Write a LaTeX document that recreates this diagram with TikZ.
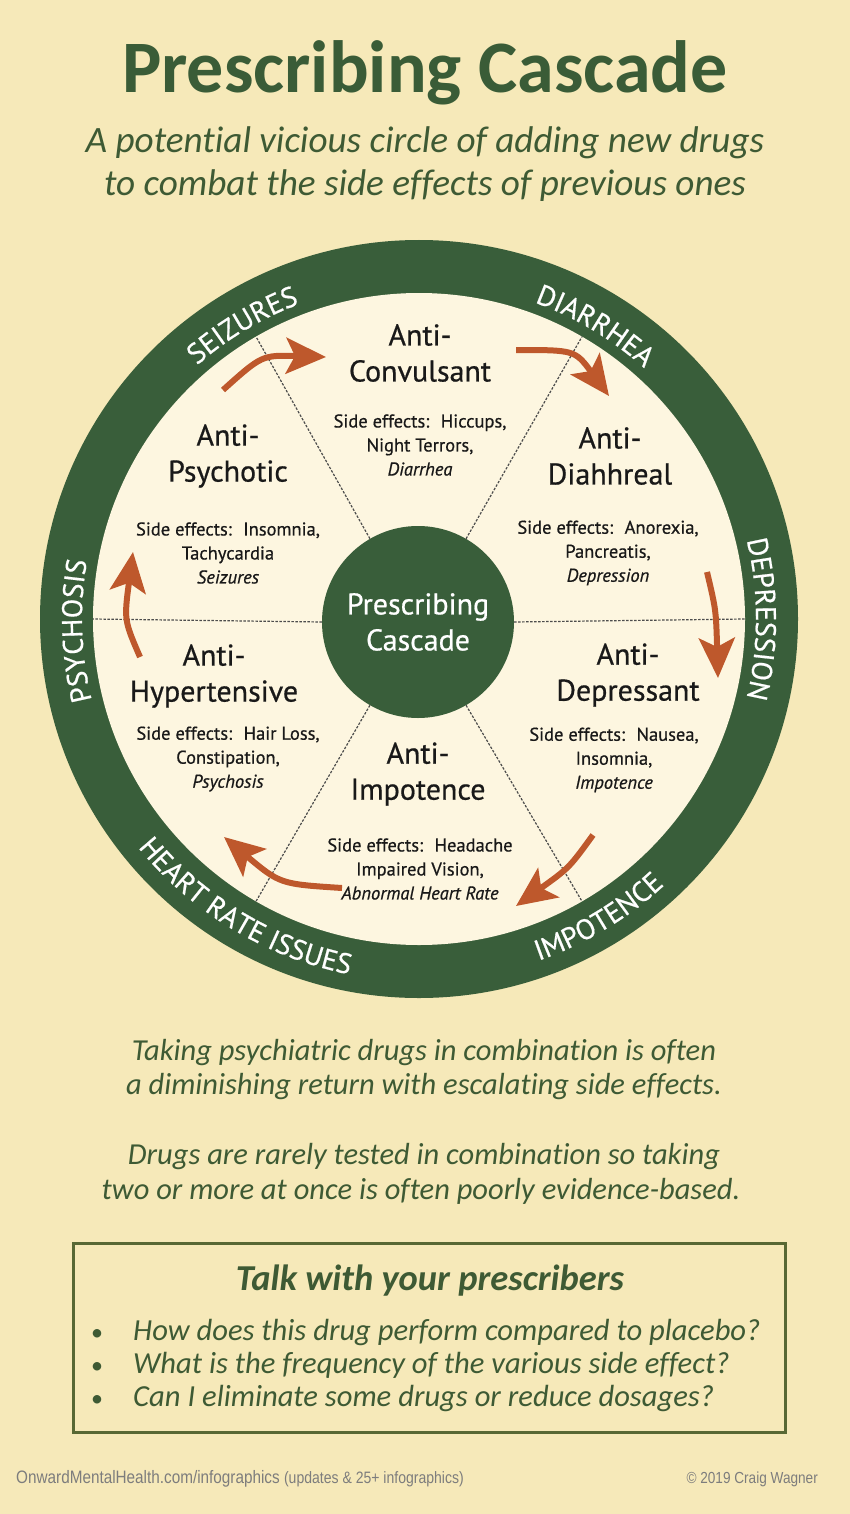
\documentclass[tikz,border=0pt]{standalone}
\usepackage{fontspec}
\usepackage{graphicx}
\setmainfont{Carlito}[Ligatures=NoCommon]
\newfontfamily\dfont{PT Sans}[FakeBold=0.6]
\newfontfamily\ffont{Liberation Sans}
\usetikzlibrary{arrows.meta,decorations.text}
\definecolor{bg}{RGB}{246,233,185}
\definecolor{cream}{RGB}{253,246,224}
\definecolor{ringgreen}{RGB}{57,94,58}
\definecolor{titlegreen}{RGB}{58,92,55}
\definecolor{textgreen}{RGB}{62,90,52}
\definecolor{arroworange}{RGB}{190,88,44}
\definecolor{boxgreen}{RGB}{88,104,52}
\definecolor{footgray}{RGB}{125,125,125}
\definecolor{ink}{RGB}{25,25,25}
\newcommand\ringfnt{\dfont\fontsize{28.5}{30}\selectfont}
\begin{document}
\begin{tikzpicture}[x=1pt,y=1pt,
  drugname/.style={font=\dfont\fontsize{30}{36}\selectfont, text=ink, align=center, inner sep=0},
  sidefx/.style={font=\dfont\fontsize{18.5}{24}\selectfont, text=ink, align=center, inner sep=0},
  spokeline/.style={draw=black!70, line width=1.2, dash pattern=on 2.5pt off 1.5pt},
  cyclearrow/.style={draw=arroworange, line width=6, -{Stealth[length=40pt,width=36pt,inset=9pt]}},
  greentext/.style={text=textgreen, inner sep=0},
]
\useasboundingbox (0,0) rectangle (850,-1514);
\fill[bg] (0,0) rectangle (850,-1514);

% title
\node[anchor=base, font=\bfseries\fontsize{74}{80}\selectfont, text=titlegreen, inner sep=0] (title) at (425,-93) {Prescribing Cascade};
\node[anchor=base, font=\itshape\fontsize{37.2}{43}\selectfont, greentext] (sub1) at (425,-153) {A potential vicious circle of adding new drugs};
\node[anchor=base, font=\itshape\fontsize{37.2}{43}\selectfont, greentext] (sub2) at (425,-196) {to combat the side effects of previous ones};

% wheel
\coordinate (C) at (419,-619);
\fill[ringgreen] (C) circle (379);
\fill[cream] (C) circle (326);
\node[circle, fill=ringgreen, minimum size=192, inner sep=0, text=white, align=center,
      font=\dfont\fontsize{30}{36}\selectfont] (hub) at (418,-622) {Prescribing\\Cascade};
\foreach \a in {0,60,120,180,240,300}{
  \path (C) ++(\a:326) coordinate (rim\a);
  \draw[spokeline] (hub.\a) -- (rim\a);
}

% sectors
\node[drugname] (conv) at (420,-353) {Anti-\\Convulsant};
\node[sidefx] (convfx) at (420,-445) {Side effects:~ Hiccups,\\Night Terrors,\\\textit{Diarrhea}};
\node[drugname] (psych) at (228,-456) {Anti-\\Psychotic};
\node[sidefx] (psychfx) at (228,-553) {Side effects:~ Insomnia,\\Tachycardia\\\textit{Seizures}};
\node[drugname] (diah) at (610,-456) {Anti-\\Diahhreal};
\node[sidefx] (diahfx) at (608,-553) {Side effects:~ Anorexia,\\Pancreatis,\\\textit{Depression}};
\node[drugname] (hyper) at (214,-676) {Anti-\\Hypertensive};
\node[sidefx] (hyperfx) at (228,-759) {Side effects:~ Hair Loss,\\Constipation,\\\textit{Psychosis}};
\node[drugname] (depr) at (628,-675) {Anti-\\Depressant};
\node[sidefx] (deprfx) at (614,-760) {Side effects:~ Nausea,\\Insomnia,\\\textit{Impotence}};
\node[drugname] (impo) at (418,-774) {Anti-\\Impotence};
\node[sidefx] (impofx) at (420,-869) {Side effects:~ Headache\\Impaired Vision,\\\textit{Abnormal Heart Rate}};

% cycle arrows
\coordinate (a1s) at (223,-390); \coordinate (a1e) at (326,-357);
\coordinate (a2s) at (516,-350); \coordinate (a2e) at (609,-396);
\coordinate (a3s) at (707,-572); \coordinate (a3e) at (718,-678);
\coordinate (a4s) at (593,-835); \coordinate (a4e) at (516,-906);
\coordinate (a5s) at (342,-888); \coordinate (a5e) at (224,-837);
\coordinate (a6s) at (140,-657); \coordinate (a6e) at (133,-552);
\draw[cyclearrow] (a1s) .. controls (262,-355) .. (a1e);
\draw[cyclearrow] (a2s) .. controls (575,-350) .. (a2e);
\draw[cyclearrow] (a3s) .. controls (716,-610) .. (a3e);
\draw[cyclearrow] (a4s) .. controls (569,-868) .. (a4e);
\draw[cyclearrow] (a5s) .. controls (280,-884) .. (a5e);
\draw[cyclearrow] (a6s) .. controls (124,-620) .. (a6e);

% ring labels
\path[decorate, decoration={text along path, text align=center, text={|\color{white}\ringfnt|SEIZURES}}]
  (C) ++(166:337) arc[start angle=166, end angle=76, radius=337];
\path[decorate, decoration={text along path, text align=center, text={|\color{white}\ringfnt|DIARRHEA}}]
  (C) ++(104:337) arc[start angle=104, end angle=14, radius=337];
\path[decorate, decoration={text along path, text align=center, text={|\color{white}\ringfnt|DEPRESSION}}]
  (C) ++(45:337) arc[start angle=45, end angle=-45, radius=337];
\path[decorate, decoration={text along path, text align=center, text={|\color{white}\ringfnt|PSYCHOSIS}}]
  (C) ++(227:337) arc[start angle=227, end angle=137, radius=337];
\path[decorate, decoration={text along path, text align=center, text={|\color{white}\ringfnt|IMPOTENCE}}]
  (C) ++(-104:362) arc[start angle=-104, end angle=-14, radius=362];
\path[decorate, decoration={text along path, text align=center, text={|\color{white}\ringfnt|HEART RATE ISSUES}}]
  (C) ++(-166:362) arc[start angle=-166, end angle=-76, radius=362];

% body text
\node[anchor=base, font=\itshape\fontsize{30.5}{35}\selectfont, greentext] (b1) at (424,-1060) {Taking psychiatric drugs in combination is often};
\node[anchor=base, font=\itshape\fontsize{30.5}{35}\selectfont, greentext] (b2) at (424,-1094) {a diminishing return with escalating side effects.};
\node[anchor=base, font=\itshape\fontsize{30.5}{35}\selectfont, greentext] (b3) at (424,-1164) {Drugs are rarely tested in combination so taking};
\node[anchor=base, font=\itshape\fontsize{30.5}{35}\selectfont, greentext] (b4) at (421,-1199) {two or more at once is often poorly evidence-based.};

% box
\draw[boxgreen, line width=3] (73,-1243) rectangle (785,-1432);
\node[anchor=base, font=\bfseries\itshape\fontsize{36.5}{40}\selectfont, greentext] (boxtitle) at (430,-1290) {Talk with your prescribers};
\foreach \y/\t [count=\i] in {1340/How does this drug perform compared to placebo?,
                   1373/What is the frequency of the various side effect?,
                   1406/Can I eliminate some drugs or reduce dosages?}{
  \node[anchor=base, font=\fontsize{24}{30}\selectfont, greentext] (bul\i) at (97,-\y) {•};
  \node[anchor=base west, font=\itshape\fontsize{30.6}{34}\selectfont, greentext] (item\i) at (133,-\y) {\t};
}

% footer
\node[anchor=base west, font=\ffont\fontsize{18}{20}\selectfont, text=footgray, inner sep=0] (foot1) at (16,-1483)
  {\scalebox{0.85}[1]{OnwardMentalHealth.com/infographics {\fontsize{16.5}{18}\selectfont (updates \& 25+ infographics)}}};
\node[anchor=base east, font=\ffont\fontsize{16}{18}\selectfont, text=footgray, inner sep=0] (foot2) at (818,-1483)
  {\scalebox{0.85}[1]{© 2019 Craig Wagner}};
\end{tikzpicture}
\end{document}
